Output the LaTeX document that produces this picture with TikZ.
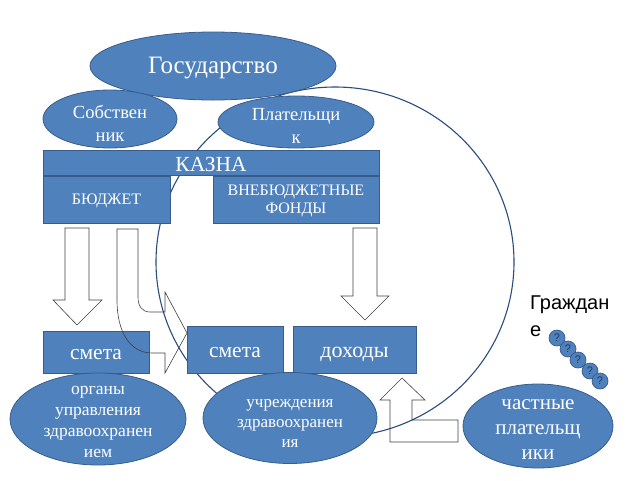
\documentclass[tikz,border=0pt]{standalone}
\usepackage{fontspec}
\setmainfont{Liberation Serif}
\newfontfamily\sansf{Liberation Sans}
\usetikzlibrary{shapes.geometric}
\definecolor{bfill}{HTML}{4F81BD}
\definecolor{bline}{HTML}{385D8A}
\definecolor{cline}{HTML}{2B4C7E}
\definecolor{qcol}{HTML}{1F3A64}
\begin{document}
\begin{tikzpicture}[x=1pt,y=-1pt,
  blob/.style={ellipse, fill=bfill, draw=bline, line width=0.8pt, inner sep=0pt},
  boxs/.style={rectangle, fill=bfill, draw=bline, line width=0.8pt, inner sep=0pt},
  wtxt/.style={text=white, align=center, inner sep=0pt},
  harrow/.style={draw=black!75, line width=0.6pt, line join=miter},
  dot/.style={circle, fill=bfill, draw=bline, line width=0.7pt, minimum size=16pt, inner sep=0pt, text=qcol, font=\sansf\fontsize{11}{11}\selectfont}]
\useasboundingbox (0,0) rectangle (640,480);

% big circle (behind)
\draw[cline, line width=1.1pt] (335,262) ellipse [x radius=179, y radius=175];

% top ellipses
\node[blob, minimum width=246, minimum height=68] (gos) at (213,66) {};
\node[wtxt, font=\fontsize{25}{28}\selectfont] (gost) at (213,68) {Государство};
\node[blob, minimum width=134, minimum height=58] (sob) at (110,119) {};
\node[wtxt, font=\fontsize{18.5}{23}\selectfont] (sobt) at (110,123) {Собствен\\ник};
\node[blob, minimum width=156, minimum height=52] (plat) at (296,122) {};
\node[wtxt, font=\fontsize{18.5}{23}\selectfont] (platt) at (296,126) {Плательщи\\к};

% treasury
\node[boxs, minimum width=336, minimum height=25] (kazna) at (211,162.5) {};
\node[wtxt, font=\fontsize{21.5}{24}\selectfont] (kaznat) at (211,164) {КАЗНА};
\node[boxs, minimum width=127, minimum height=47] (bud) at (106.5,199.5) {};
\node[wtxt, font=\fontsize{16}{17}\selectfont] (budt) at (106.5,201) {БЮДЖЕТ};
\node[boxs, minimum width=166, minimum height=47] (vneb) at (296,199.5) {};
\node[wtxt, font=\fontsize{16}{18}\selectfont] (vnebt) at (296,201) {ВНЕБЮДЖЕТНЫЕ\\ФОНДЫ};

% lower boxes
\node[boxs, minimum width=106, minimum height=42] (smeta1) at (96,352) {};
\node[wtxt, font=\fontsize{21.5}{24}\selectfont] (smeta1t) at (96,355) {смета};
\node[boxs, minimum width=96, minimum height=47] (smeta2) at (235,349.5) {};
\node[wtxt, font=\fontsize{21.5}{24}\selectfont] (smeta2t) at (235,353) {смета};
\node[boxs, minimum width=123, minimum height=47] (doh) at (354.5,349.5) {};
\node[wtxt, font=\fontsize{22}{24}\selectfont] (doht) at (354.5,354) {доходы};

% lower ellipses
\node[blob, minimum width=176, minimum height=92] (org) at (98,419) {};
\node[wtxt, font=\fontsize{17.5}{20.7}\selectfont] (orgt) at (98,422) {органы\\управления\\здравоохранен\\ием};
\node[blob, minimum width=174, minimum height=91] (uch) at (290,418) {};
\node[wtxt, font=\fontsize{17}{20}\selectfont] (ucht) at (290,423) {учреждения\\здравоохранен\\ия};
\node[blob, minimum width=150, minimum height=84] (chast) at (538,426) {};
\node[wtxt, font=\fontsize{21}{25}\selectfont] (chastt) at (538,430) {частные\\плательщ\\ики};

% block arrows (outline only)
\draw[harrow] (65,228) -- (89,228) -- (89,300) -- (102,300) -- (77,325) -- (53,300) -- (65,300) -- cycle;
\draw[harrow] (353,228) -- (377,228) -- (377,296) -- (389,296) -- (365,320) -- (341,296) -- (353,296) -- cycle;
\draw[harrow] (402,378) -- (425,400) -- (412,400) -- (412,420) -- (458,420) -- (458,442) -- (390,442) -- (390,400) -- (380,400) -- cycle;
\draw[harrow] (117,229) -- (117,300) .. controls (117,332) and (130,353) .. (152,353) -- (165,353) -- (165,373) -- (187,333) -- (165,292) -- (165,312) -- (150,312) .. controls (142,312) and (138,306) .. (138,297) -- (138,229) -- cycle;

% citizens
\node[anchor=north west, inner sep=0pt, align=left, font=\sansf\fontsize{20}{27}\selectfont] (grazh) at (530,296) {Граждан\\е};
\node[dot] (d1) at (557,338) {?};
\node[dot] (d2) at (568,349) {?};
\node[dot] (d3) at (578,360) {?};
\node[dot] (d4) at (590,371) {?};
\node[dot] (d5) at (600,381) {?};
\end{tikzpicture}
\end{document}
